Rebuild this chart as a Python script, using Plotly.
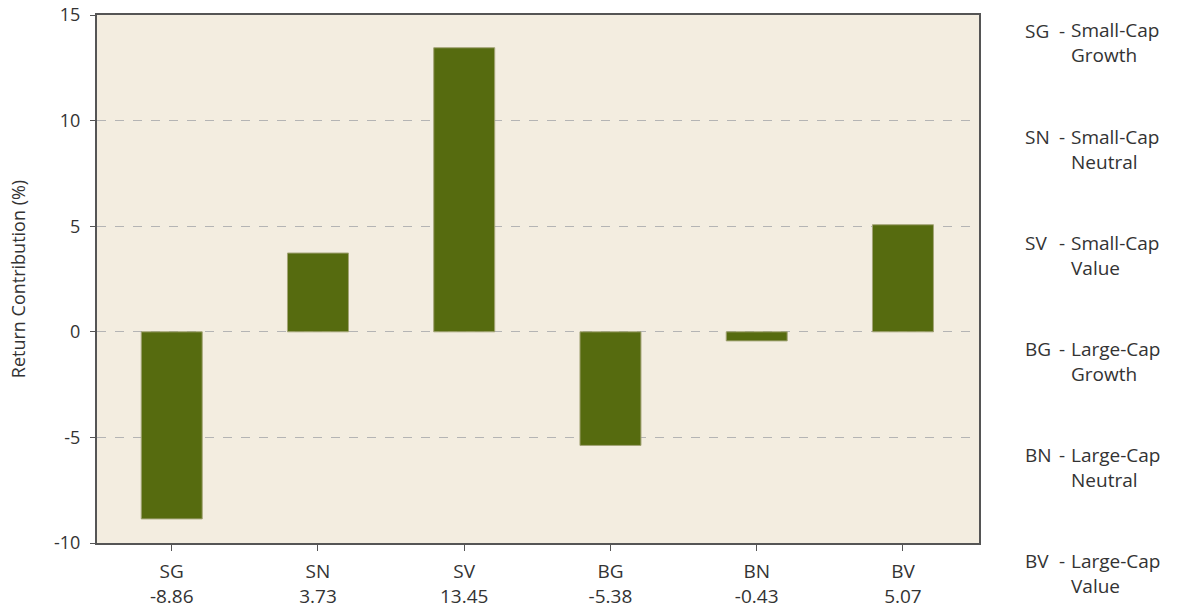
import plotly.graph_objects as go

categories = ["SG", "SN", "SV", "BG", "BN", "BV"]
values = [-8.86, 3.73, 13.45, -5.38, -0.43, 5.07]
y_tickvals = [-10, -5, 0, 5, 10, 15]
y_ticktext = ["-10", "-5", "0", "5", "10", "15"]
legend_codes = ["SG", "SN", "SV", "BG", "BN", "BV"]
legend_line1 = ["Small-Cap", "Small-Cap", "Small-Cap", "Large-Cap", "Large-Cap", "Large-Cap"]
legend_line2 = ["Growth", "Neutral", "Value", "Growth", "Neutral", "Value"]

FONT = "Open Sans"
FS = 18
FSX = 19
TXT = "#333333"
W, H = 1178, 607
ML, MR, MT, MB = 97, 199, 15, 64
PW = W - ML - MR
PH = H - MT - MB

xt = [f"{c}<br>{v:.2f}" for c, v in zip(categories, values)]

fig = go.Figure()
fig.add_trace(go.Bar(
    x=list(range(len(categories))), y=values, width=0.417,
    marker=dict(color="#566B0F", line=dict(color="#A3A476", width=1)),
    hoverinfo="skip",
))

def px_x(p):
    return (p - ML) / PW

def px_y(p):
    return 1 - (p - MT) / PH

ann = []
for i, (c, l1, l2) in enumerate(zip(legend_codes, legend_line1, legend_line2)):
    y1 = 31 + i * 106
    ann.append(dict(x=px_x(1024), y=px_y(y1), text=c, xanchor="left", yanchor="middle"))
    ann.append(dict(x=px_x(1058), y=px_y(y1), text="-", xanchor="left", yanchor="middle"))
    ann.append(dict(x=px_x(1070), y=px_y(y1 + 12), text=f"{l1}<br>{l2}",
                    xanchor="left", yanchor="middle", align="left"))
for a in ann:
    a.update(xref="paper", yref="paper", showarrow=False, borderpad=0,
             font=dict(family=FONT, size=FSX, color=TXT))

fig.update_layout(
    width=W, height=H,
    margin=dict(l=ML, r=MR, t=MT, b=MB, pad=0),
    paper_bgcolor="white", plot_bgcolor="#F3EDE0",
    showlegend=False,
    font=dict(family=FONT, size=FS, color=TXT),
    annotations=ann,
    xaxis=dict(
        range=[-0.511, 5.52],
        tickvals=list(range(len(categories))), ticktext=xt,
        ticks="outside", ticklen=6, tickcolor="#555555",
        showgrid=False, zeroline=False,
        showline=True, linecolor="#555555", linewidth=2, mirror=True,
        tickfont=dict(family=FONT, size=FSX, color=TXT),
        ticklabelstandoff=4,
        automargin=False,
        fixedrange=True,
    ),
    yaxis=dict(
        range=[-10, 15],
        tickvals=y_tickvals, ticktext=y_ticktext,
        ticks="outside", ticklen=5, tickcolor="#555555",
        showgrid=True, gridcolor="#B4B4B4", griddash="dash", gridwidth=1,
        zeroline=False,
        showline=True, linecolor="#555555", linewidth=2, mirror=True,
        title=dict(text="Return Contribution (%)", standoff=24,
                   font=dict(family=FONT, size=FS, color=TXT)),
        tickfont=dict(family=FONT, size=FS, color=TXT),
        ticklabelstandoff=6,
        automargin=False,
        fixedrange=True,
    ),
)

fig.write_html("out.html", config={"displayModeBar": False},
               post_script="document.body.style.margin='0';document.body.style.padding='0';")
